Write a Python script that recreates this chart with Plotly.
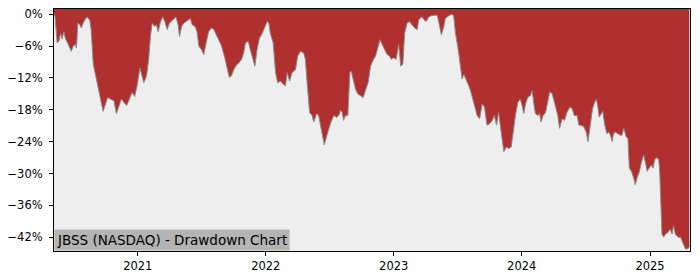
import plotly.graph_objects as go

dates = [
    "2020-05-07", "2020-05-10", "2020-05-16", "2020-05-21", "2020-05-26", "2020-05-30",
    "2020-06-04", "2020-06-09", "2020-06-17", "2020-06-25", "2020-07-01", "2020-07-07",
    "2020-07-10", "2020-07-14", "2020-07-20", "2020-07-24", "2020-07-29", "2020-08-05",
    "2020-08-10", "2020-08-17", "2020-08-21", "2020-08-27", "2020-09-02", "2020-09-09",
    "2020-09-17", "2020-09-24", "2020-10-01", "2020-10-07", "2020-10-15", "2020-10-25",
    "2020-11-01", "2020-11-08", "2020-11-15", "2020-11-22", "2020-11-30", "2020-12-06",
    "2020-12-16", "2020-12-23", "2020-12-30", "2021-01-07", "2021-01-11", "2021-01-18",
    "2021-01-26", "2021-02-01", "2021-02-06", "2021-02-11", "2021-02-18", "2021-02-23",
    "2021-02-28", "2021-03-07", "2021-03-13", "2021-03-19", "2021-03-26", "2021-04-01",
    "2021-04-09", "2021-04-14", "2021-04-20", "2021-04-26", "2021-04-30", "2021-05-06",
    "2021-05-12", "2021-05-19", "2021-05-26", "2021-05-31", "2021-06-05", "2021-06-13",
    "2021-06-19", "2021-06-24", "2021-07-02", "2021-07-08", "2021-07-15", "2021-07-22",
    "2021-07-30", "2021-08-06", "2021-08-13", "2021-08-20", "2021-08-28", "2021-09-06",
    "2021-09-13", "2021-09-19", "2021-09-25", "2021-10-02", "2021-10-09", "2021-10-16",
    "2021-10-24", "2021-10-30", "2021-11-04", "2021-11-12", "2021-11-18", "2021-11-25",
    "2021-12-01", "2021-12-07", "2021-12-14", "2021-12-22", "2021-12-31", "2022-01-05",
    "2022-01-10", "2022-01-14", "2022-01-22", "2022-01-29", "2022-02-04", "2022-02-12",
    "2022-02-20", "2022-02-26", "2022-03-03", "2022-03-10", "2022-03-17", "2022-03-27",
    "2022-04-02", "2022-04-10", "2022-04-19", "2022-04-24", "2022-04-29", "2022-05-06",
    "2022-05-13", "2022-05-18", "2022-05-26", "2022-06-01", "2022-06-06", "2022-06-14",
    "2022-06-17", "2022-06-23", "2022-06-30", "2022-07-06", "2022-07-14", "2022-07-22",
    "2022-07-28", "2022-08-02", "2022-08-07", "2022-08-11", "2022-08-16", "2022-08-23",
    "2022-08-29", "2022-09-02", "2022-09-07", "2022-09-14", "2022-09-20", "2022-09-28",
    "2022-10-06", "2022-10-12", "2022-10-20", "2022-10-27", "2022-11-02", "2022-11-10",
    "2022-11-18", "2022-11-23", "2022-11-29", "2022-12-06", "2022-12-13", "2022-12-20",
    "2022-12-25", "2023-01-01", "2023-01-08", "2023-01-15", "2023-01-21", "2023-01-27",
    "2023-02-01", "2023-02-08", "2023-02-15", "2023-02-22", "2023-03-02", "2023-03-09",
    "2023-03-13", "2023-03-21", "2023-03-28", "2023-04-03", "2023-04-11", "2023-04-18",
    "2023-04-28", "2023-05-05", "2023-05-11", "2023-05-17", "2023-05-24", "2023-05-28",
    "2023-06-07", "2023-06-15", "2023-06-21", "2023-06-26", "2023-07-04", "2023-07-10",
    "2023-07-15", "2023-07-20", "2023-07-25", "2023-08-03", "2023-08-08", "2023-08-17",
    "2023-08-27", "2023-09-03", "2023-09-10", "2023-09-17", "2023-09-24", "2023-10-02",
    "2023-10-09", "2023-10-15", "2023-10-21", "2023-10-27", "2023-11-01", "2023-11-06",
    "2023-11-11", "2023-11-18", "2023-11-25", "2023-12-02", "2023-12-07", "2023-12-14",
    "2023-12-21", "2023-12-28", "2024-01-02", "2024-01-07", "2024-01-12", "2024-01-18",
    "2024-01-26", "2024-01-31", "2024-02-04", "2024-02-09", "2024-02-16", "2024-02-21",
    "2024-02-25", "2024-03-02", "2024-03-09", "2024-03-15", "2024-03-21", "2024-03-28",
    "2024-04-03", "2024-04-09", "2024-04-13", "2024-04-18", "2024-04-25", "2024-05-02",
    "2024-05-09", "2024-05-17", "2024-05-24", "2024-05-30", "2024-06-07", "2024-06-12",
    "2024-06-18", "2024-06-26", "2024-07-03", "2024-07-08", "2024-07-15", "2024-07-21",
    "2024-07-27", "2024-08-01", "2024-08-06", "2024-08-09", "2024-08-15", "2024-08-19",
    "2024-08-25", "2024-08-31", "2024-09-05", "2024-09-10", "2024-09-15", "2024-09-19",
    "2024-09-24", "2024-10-02", "2024-10-08", "2024-10-13", "2024-10-18", "2024-10-25",
    "2024-10-30", "2024-11-03", "2024-11-09", "2024-11-15", "2024-11-20", "2024-11-25",
    "2024-12-02", "2024-12-07", "2024-12-14", "2024-12-19", "2024-12-24", "2024-12-29",
    "2025-01-05", "2025-01-10", "2025-01-14", "2025-01-21", "2025-01-26", "2025-01-29",
    "2025-01-31", "2025-02-04", "2025-02-09", "2025-02-14", "2025-02-21", "2025-02-27",
    "2025-03-05", "2025-03-09", "2025-03-14", "2025-03-22", "2025-03-29", "2025-04-02",
    "2025-04-07", "2025-04-12", "2025-04-19", "2025-04-23",
]

drawdown_pct = [
    0.0, -0.5, -5.4, -5.1, -3.6, -4.7,
    -3.3, -4.7, -5.7, -7.0, -6.0, -5.7,
    -6.4, -1.7, -2.0, -2.6, -1.7, -0.8,
    -0.6, -1.1, -2.9, -9.4, -11.3, -13.5,
    -16.0, -18.3, -16.9, -15.7, -16.0, -16.3,
    -18.7, -17.2, -16.0, -16.6, -17.2, -16.3,
    -14.7, -15.5, -13.5, -10.1, -11.0, -12.9,
    -11.6, -8.5, -4.2, -1.7, -2.3, -2.0,
    -3.3, -1.4, -0.5, -1.4, -2.9, -1.7,
    -1.2, -0.8, -0.5, -2.0, -4.2, -2.3,
    -1.7, -1.4, -1.1, -0.8, -2.0, -2.3,
    -3.3, -6.0, -6.7, -7.6, -5.4, -3.3,
    -2.6, -2.9, -3.9, -4.8, -6.0, -8.2,
    -10.1, -11.9, -11.6, -10.4, -9.6, -9.2,
    -8.5, -7.3, -5.4, -5.1, -6.7, -8.2,
    -9.8, -6.7, -4.5, -3.6, -2.3, -1.4,
    -1.7, -3.6, -5.4, -11.0, -12.9, -12.6,
    -13.2, -13.5, -11.0, -12.6, -11.0, -10.4,
    -7.9, -7.0, -7.3, -8.5, -12.9, -18.5,
    -19.1, -20.3, -18.7, -19.1, -20.9, -23.4,
    -24.6, -23.1, -21.5, -20.3, -19.1, -19.4,
    -19.1, -18.1, -18.5, -20.0, -19.1, -19.1,
    -11.0, -10.7, -12.2, -14.1, -15.0, -15.3,
    -15.7, -14.4, -12.9, -9.8, -8.8, -7.9,
    -6.0, -4.8, -5.7, -6.7, -7.6, -7.9,
    -8.5, -8.2, -8.5, -5.7, -9.8, -9.4,
    -3.6, -1.7, -1.4, -2.0, -2.6, -2.9,
    -1.1, -0.5, -1.1, -1.4, -0.5, -0.3,
    -0.2, -0.2, -2.0, -3.9, -2.3, -0.8,
    -0.3, 0.0, -0.3, -3.6, -6.7, -9.8,
    -12.2, -11.3, -12.0, -13.5, -14.4, -16.6,
    -19.1, -19.7, -16.9, -17.5, -20.9, -20.6,
    -20.0, -19.1, -20.9, -18.5, -20.9, -23.4,
    -25.9, -25.0, -25.3, -25.0, -22.2, -19.1,
    -16.6, -16.0, -17.2, -18.7, -16.9, -15.7,
    -15.3, -14.4, -16.6, -18.7, -19.1, -18.7,
    -20.3, -19.1, -18.5, -16.3, -14.6, -15.0,
    -16.6, -17.8, -19.1, -21.5, -19.7, -20.0,
    -18.5, -17.5, -17.8, -19.1, -19.1, -20.9,
    -20.9, -21.2, -22.2, -24.0, -20.9, -17.8,
    -16.6, -16.0, -17.8, -19.4, -18.7, -18.3,
    -20.9, -22.5, -22.2, -22.8, -24.0, -22.5,
    -22.2, -22.5, -22.8, -22.8, -21.5, -23.1,
    -23.4, -29.0, -29.6, -30.8, -32.1, -30.8,
    -29.6, -28.0, -26.5, -28.0, -29.6, -29.0,
    -28.4, -29.0, -27.4, -27.0, -27.4, -30.2,
    -33.3, -41.4, -42.0, -41.4, -41.1, -40.5,
    -41.4, -39.8, -41.4, -42.0, -42.0, -42.6,
    -43.6, -44.2, -44.2, -43.8,
]

y_axis_min = -44.6
y_axis_max = 0.97
y_tick_vals = [0, -6, -12, -18, -24, -30, -36, -42]
y_tick_text = ["0%", "\u22126%", "\u221212%", "\u221218%", "\u221224%", "\u221230%", "\u221236%", "\u221242%"]
x_tick_vals = ["2021-01-01", "2022-01-01", "2023-01-01", "2024-01-01", "2025-01-01"]
x_tick_text = ["2021", "2022", "2023", "2024", "2025"]
title_text = "JBSS (NASDAQ) - Drawdown Chart"

fig = go.Figure()
# invisible ceiling at the top of the axis so the red fill reaches the top frame
fig.add_trace(go.Scatter(
    x=dates, y=[y_axis_max + 1] * len(dates), mode="lines",
    line=dict(width=0, color="rgba(0,0,0,0)"),
    hoverinfo="skip", showlegend=False,
))
fig.add_trace(go.Scatter(
    x=dates, y=drawdown_pct, mode="lines", fill="tonexty",
    fillcolor="#b02f2f", line=dict(color="#8a8a8a", width=1),
    hoverinfo="skip", showlegend=False,
))

axis_font = dict(family="DejaVu Sans", size=11.5, color="#000000")
fig.update_layout(
    width=700, height=280,
    margin=dict(l=53, r=10, t=7, b=28),
    paper_bgcolor="#ffffff", plot_bgcolor="#eeeeee",
    xaxis=dict(
        type="date", range=["2020-05-07", "2025-04-25"],
        tickvals=x_tick_vals, ticktext=x_tick_text,
        showgrid=False, zeroline=False,
        showline=True, linecolor="#000000", linewidth=1, mirror=True,
        ticks="outside", ticklen=4, tickcolor="#000000", tickwidth=1,
        tickfont=axis_font,
    ),
    yaxis=dict(
        range=[y_axis_min, y_axis_max],
        tickvals=y_tick_vals, ticktext=y_tick_text,
        showgrid=False, zeroline=False,
        showline=True, linecolor="#000000", linewidth=1, mirror=True,
        ticks="outside", ticklen=4, tickcolor="#000000", tickwidth=1,
        tickfont=axis_font, ticklabelstandoff=4,
    ),
    annotations=[dict(
        text=title_text, xref="paper", yref="paper", x=0, y=0,
        xanchor="left", yanchor="bottom", showarrow=False,
        bgcolor="#b4b4b4", borderpad=2,
        font=dict(family="DejaVu Sans", size=13.5, color="#000000"),
    )],
)

fig.write_html("out.html")
